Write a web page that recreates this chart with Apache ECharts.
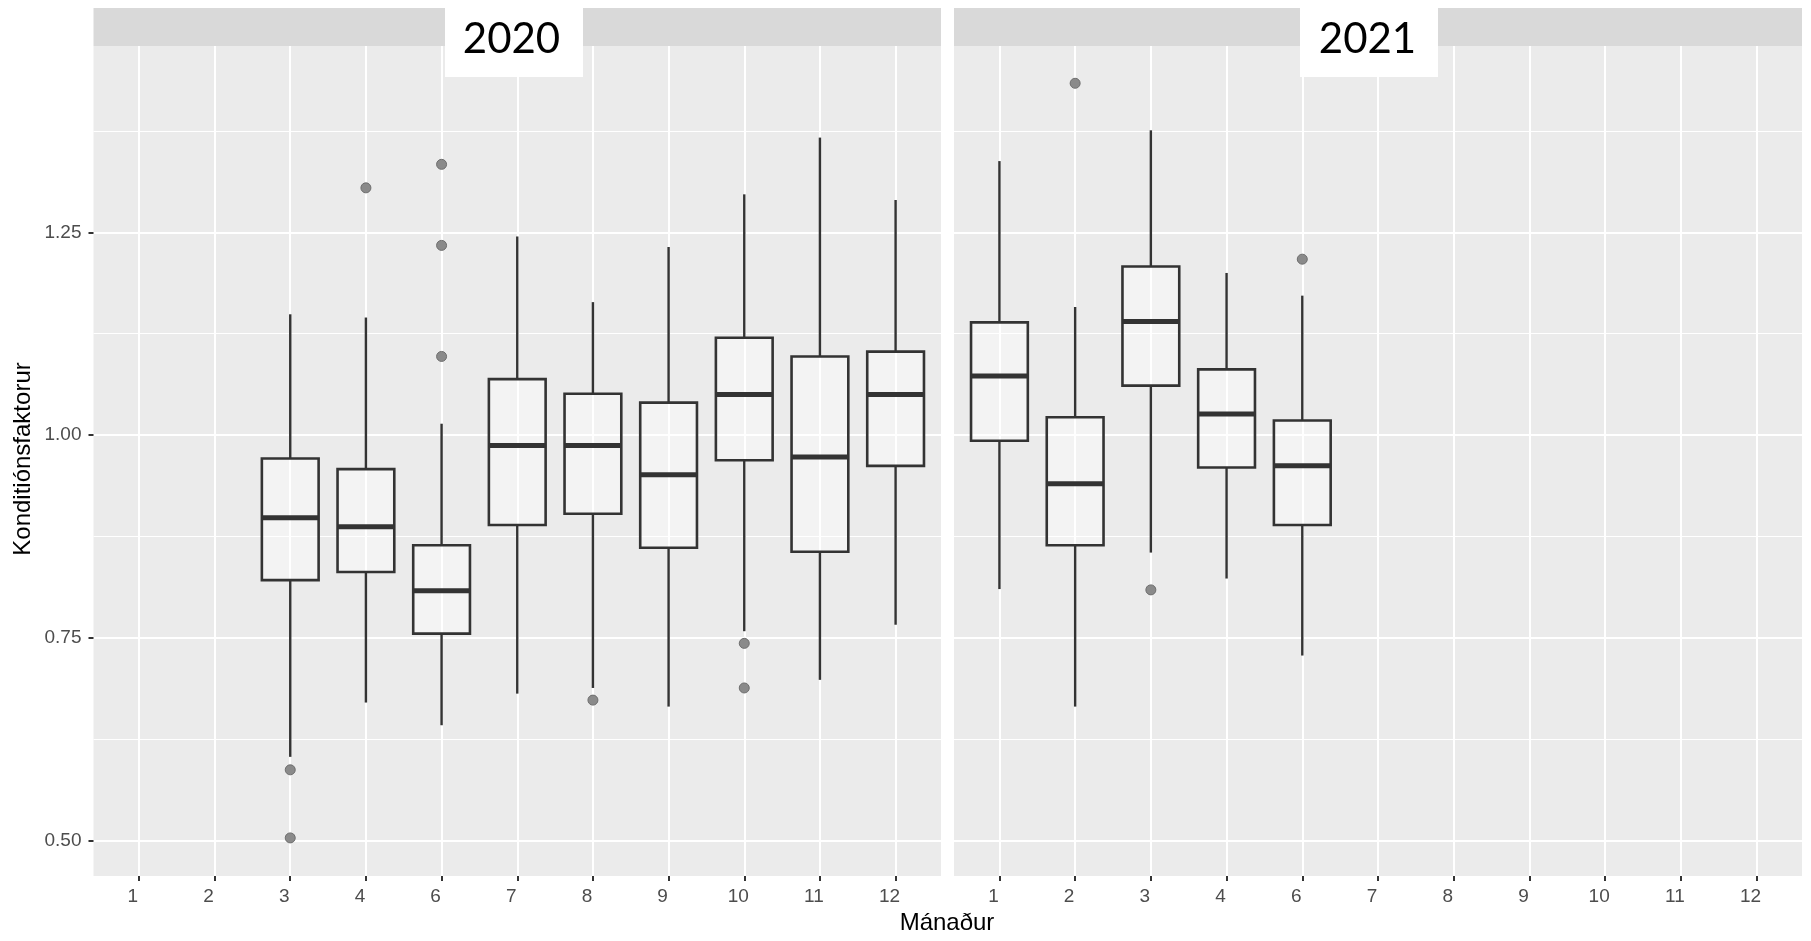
<!DOCTYPE html>
<html>
<head>
<meta charset="utf-8">
<script src="https://cdn.jsdelivr.net/npm/echarts@6/dist/echarts.min.js"></script>
<style>
  html, body { margin: 0; padding: 0; background: #ffffff; }
  #chart { width: 1811px; height: 941px; }
</style>
</head>
<body>
<div id="chart"></div>
<script>
// ---- Data ----
const monthLabels = ['1', '2', '3', '4', '6', '7', '8', '9', '10', '11', '12'];
const yMajorTicks = [0.5, 0.75, 1.0, 1.25];
const yMinorTicks = [0.625, 0.875, 1.125, 1.375];
const panelTitles = ['2020', '2021'];
const xAxisTitle = 'Mánaður';
const yAxisTitle = 'Konditiónsfaktorur';

// 2020 boxes
const months2020 = ['3', '4', '6', '7', '8', '9', '10', '11', '12'];
const min2020    = [0.603, 0.670, 0.642, 0.681, 0.688, 0.665, 0.758, 0.698, 0.766];
const q1_2020    = [0.821, 0.831, 0.755, 0.889, 0.903, 0.861, 0.969, 0.856, 0.962];
const med2020    = [0.898, 0.887, 0.808, 0.987, 0.987, 0.951, 1.050, 0.973, 1.050];
const q3_2020    = [0.971, 0.958, 0.864, 1.069, 1.051, 1.040, 1.120, 1.097, 1.103];
const max2020    = [1.149, 1.145, 1.014, 1.245, 1.164, 1.232, 1.297, 1.367, 1.290];
const outMonths2020 = ['3', '3', '4', '6', '6', '6', '8', '10', '10'];
const outValues2020 = [0.587, 0.503, 1.305, 1.334, 1.234, 1.097, 0.673, 0.743, 0.688];

// 2021 boxes
const months2021 = ['1', '2', '3', '4', '6'];
const min2021    = [0.810, 0.665, 0.855, 0.823, 0.728];
const q1_2021    = [0.993, 0.864, 1.061, 0.960, 0.889];
const med2021    = [1.073, 0.940, 1.140, 1.026, 0.962];
const q3_2021    = [1.139, 1.022, 1.208, 1.081, 1.018];
const max2021    = [1.338, 1.158, 1.376, 1.200, 1.172];
const outMonths2021 = ['2', '3', '6'];
const outValues2021 = [1.434, 0.809, 1.217];

// ---- Build ----
const pos = m => monthLabels.indexOf(m) + 1;
const monthPositions = monthLabels.map((m, i) => i + 1);
function boxData(months, mn, q1, md, q3, mx) {
  return months.map((m, i) => [pos(m), mn[i], q1[i], md[i], q3[i], mx[i]]);
}
function outData(months, vals) {
  return months.map((m, i) => [pos(m), vals[i]]);
}
const boxes = [
  boxData(months2020, min2020, q1_2020, med2020, q3_2020, max2020),
  boxData(months2021, min2021, q1_2021, med2021, q3_2021, max2021)
];
const outliers = [outData(outMonths2020, outValues2020), outData(outMonths2021, outValues2021)];

const FONT = 'Liberation Sans, Arial, Helvetica, sans-serif';
const Y_MIN = 0.456, Y_MAX = 1.480;
const grids = [
  { left: 93.5, top: 46, width: 847.5, height: 830 },
  { left: 954, top: 46, width: 848, height: 830 }
];

function renderBox(params, api) {
  const x = api.value(0);
  const lo = api.value(1), q1 = api.value(2), md = api.value(3), q3 = api.value(4), hi = api.value(5);
  const hw = 0.375;
  const tl = api.coord([x - hw, q3]);
  const br = api.coord([x + hw, q1]);
  const pLo = api.coord([x, lo]), pHi = api.coord([x, hi]);
  const pQ1 = api.coord([x, q1]), pQ3 = api.coord([x, q3]);
  const mL = api.coord([x - hw, md]), mR = api.coord([x + hw, md]);
  const stroke = '#333333';
  return {
    type: 'group',
    children: [
      { type: 'line', shape: { x1: pHi[0], y1: pHi[1], x2: pQ3[0], y2: pQ3[1] }, style: { stroke, lineWidth: 2.4 } },
      { type: 'line', shape: { x1: pQ1[0], y1: pQ1[1], x2: pLo[0], y2: pLo[1] }, style: { stroke, lineWidth: 2.4 } },
      { type: 'rect', shape: { x: tl[0], y: tl[1], width: br[0] - tl[0], height: br[1] - tl[1] },
        style: { fill: 'rgba(255,255,255,0.4)', stroke, lineWidth: 2.6 } },
      { type: 'line', shape: { x1: mL[0], y1: mL[1], x2: mR[0], y2: mR[1] }, style: { stroke, lineWidth: 5 } }
    ]
  };
}

const xAxes = [], yAxes = [], series = [];
grids.forEach((g, i) => {
  xAxes.push({
    type: 'value', gridIndex: i, min: 0.4, max: 11.6,
    axisLine: { show: false },
    axisTick: { show: true, length: 5, customValues: monthPositions, lineStyle: { color: '#333333', width: 2 } },
    axisLabel: {
      customValues: monthPositions,
      formatter: v => monthLabels[Math.round(v) - 1],
      color: '#4d4d4d', fontSize: 19, fontFamily: FONT, margin: 11, padding: [0, 12, 0, 0]
    },
    splitLine: { show: true, lineStyle: { color: '#ffffff', width: 2 } }
  });
  yAxes.push({
    type: 'value', gridIndex: i, min: Y_MIN, max: Y_MAX, position: 'left',
    axisLine: { show: false },
    axisTick: { show: i === 0, length: 5, customValues: yMajorTicks, lineStyle: { color: '#333333', width: 2 } },
    axisLabel: {
      show: i === 0, customValues: yMajorTicks,
      formatter: v => v.toFixed(2),
      color: '#4d4d4d', fontSize: 19, fontFamily: FONT, margin: 12
    },
    splitLine: { show: true, lineStyle: { color: '#ffffff', width: 2 } }
  });
  yAxes.push({
    type: 'value', gridIndex: i, min: Y_MIN, max: Y_MAX, position: 'right',
    axisLine: { show: false },
    axisTick: { show: false, customValues: yMinorTicks },
    axisLabel: { show: false, customValues: yMinorTicks },
    splitLine: { show: true, lineStyle: { color: '#ffffff', width: 1 } }
  });
  series.push({
    type: 'custom', xAxisIndex: i, yAxisIndex: i * 2,
    renderItem: renderBox,
    encode: { x: 0, y: [1, 2, 3, 4, 5] },
    data: boxes[i], z: 3, silent: true
  });
  series.push({
    type: 'scatter', xAxisIndex: i, yAxisIndex: i * 2,
    data: outliers[i], symbol: 'circle', symbolSize: 10, z: 4, silent: true,
    itemStyle: { color: '#8a8a8a', borderColor: '#6e6e6e', borderWidth: 1, opacity: 1 }
  });
});

const graphics = [];
// strips
grids.forEach(g => {
  graphics.push({ type: 'rect', shape: { x: g.left, y: 8, width: g.width, height: 38 }, style: { fill: '#d9d9d9' }, silent: true });
});
// white label boxes with year
const yearBoxes = [
  { x: 445, w: 138, cx: 511.5 },
  { x: 1300, w: 138, cx: 1367.5 }
];
yearBoxes.forEach((b, i) => {
  graphics.push({ type: 'rect', shape: { x: b.x, y: 0, width: b.w, height: 77 }, style: { fill: '#ffffff' }, silent: true, z: 10 });
  graphics.push({ type: 'text', x: b.cx, y: 39, z: 11, silent: true,
    style: { text: panelTitles[i], fill: '#000000', font: '42px Lato, "Open Sans", sans-serif', align: 'center', verticalAlign: 'middle' } });
});
// axis titles
graphics.push({ type: 'text', x: 947, y: 923, silent: true,
  style: { text: xAxisTitle, fill: '#000000', font: '24px ' + FONT, align: 'center', verticalAlign: 'middle' } });
graphics.push({ type: 'text', x: 23, y: 459, rotation: Math.PI / 2, silent: true,
  style: { text: yAxisTitle, fill: '#000000', font: '24px ' + FONT, align: 'center', verticalAlign: 'middle' } });

const chart = echarts.init(document.getElementById('chart'), null, { renderer: 'canvas' });
chart.setOption({
  animation: false,
  backgroundColor: '#ffffff',
  grid: grids.map(g => Object.assign({ show: true, backgroundColor: '#ebebeb', borderWidth: 0, containLabel: false }, g)),
  xAxis: xAxes,
  yAxis: yAxes,
  series: series,
  graphic: graphics
});
</script>
</body>
</html>
